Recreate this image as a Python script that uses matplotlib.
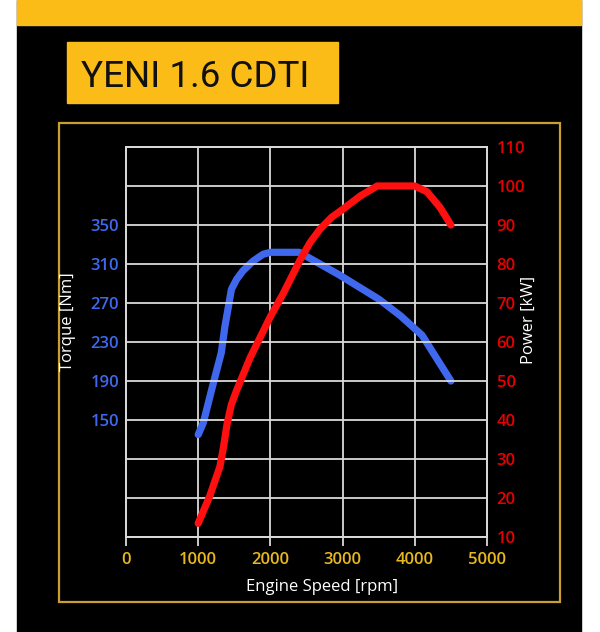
import matplotlib
matplotlib.use("Agg")
from matplotlib import pyplot as plt
from matplotlib.patches import Rectangle

# data
rpm_torque = [1000, 1070, 1200, 1320, 1370, 1420, 1460, 1530, 1620, 1760, 1900, 2000,
              2400, 2950, 3500, 3800, 4100, 4500]
torque = [135, 147, 185, 219, 246, 267, 284, 294, 303, 313, 320, 322,
          322, 299, 274, 257, 237, 190]

rpm_power = [1000, 1160, 1300, 1350, 1400, 1460, 1530, 1720, 2000, 2180, 2410, 2550,
             2690, 2850, 3000, 3250, 3480, 4000, 4170, 4350, 4500]
power = [13.5, 20.5, 28, 33, 39, 44, 47.5, 56, 66.5, 72.5, 81, 85.5,
         89, 92, 94, 97.5, 100, 100, 98.5, 94.5, 90]

x_ticks = [0, 1000, 2000, 3000, 4000, 5000]
torque_ticks = [150, 190, 230, 270, 310, 350]
power_ticks = [10, 20, 30, 40, 50, 60, 70, 80, 90, 100, 110]

title = "YENI 1.6 CDTI"

W, H = 600, 632
YELLOW = '#fcbc17'
GOLD = '#c9a030'
GRID = '#dadada'
BLUE = '#3f68ee'
RED = '#ff1010'

plt.rcParams['font.family'] = ['Open Sans', 'DejaVu Sans']

fig = plt.figure(figsize=(6, 6.32), dpi=100, facecolor='white')


def box(x0, y0, x1, y1):
    # pixel box (top-left origin) -> figure fractions
    return (x0 / W, 1 - y1 / H), (x1 - x0) / W, (y1 - y0) / H


# background panel, yellow band, title box and frame
xy, w, h = box(17, 0, 581, 632)
fig.add_artist(Rectangle(xy, w, h, transform=fig.transFigure, color='black', zorder=0))
xy, w, h = box(17, 0, 581, 25)
fig.add_artist(Rectangle(xy, w, h, transform=fig.transFigure, color=YELLOW, zorder=1))
xy, w, h = box(67, 42, 338, 103)
fig.add_artist(Rectangle(xy, w, h, transform=fig.transFigure, color=YELLOW, zorder=1))
xy, w, h = box(59, 123, 560, 602)
fig.add_artist(Rectangle(xy, w, h, transform=fig.transFigure, fill=False,
                         edgecolor=GOLD, linewidth=1.6, zorder=1))

fig.text(81 / W, 1 - 87 / H, title, fontsize=26.5, color='#111111',
         family=['Roboto', 'DejaVu Sans'], ha='left', va='baseline')

xy, w, h = box(126, 147, 487, 537)
ax = fig.add_axes([xy[0], xy[1], w, h])
ax.set_facecolor('none')
ax2 = ax.twinx()

ax.set_xlim(0, 5000)
ax.set_ylim(30, 430)
ax2.set_ylim(10, 110)

# grid
for p in power_ticks:
    ax2.axhline(p, color=GRID, lw=1.3, zorder=1)
for x in x_ticks[1:-1]:
    ax.axvline(x, color=GRID, lw=1.3, zorder=1)

for a in (ax, ax2):
    for s in a.spines.values():
        s.set_color(GRID)
        s.set_linewidth(1.3)

ax.plot(rpm_torque, torque, color=BLUE, lw=5.2, solid_capstyle='round',
        solid_joinstyle='round', zorder=3)
ax2.plot(rpm_power, power, color=RED, lw=5.2, solid_capstyle='round',
         solid_joinstyle='round', zorder=3)

ax.set_xticks(x_ticks)
ax.tick_params(axis='x', colors=GRID, length=6.5, width=1.3, pad=4)
for t in ax.get_xticklabels():
    t.set_color('#e8b81e')
    t.set_fontsize(12)
    t.set_fontweight('semibold')

ax.set_yticks(torque_ticks)
ax.tick_params(axis='y', length=0, pad=5)
for t in ax.get_yticklabels():
    t.set_color(BLUE)
    t.set_fontsize(12)
    t.set_fontweight('semibold')

ax2.set_yticks(power_ticks)
ax2.tick_params(axis='y', length=0, pad=7)
for t in ax2.get_yticklabels():
    t.set_color('#e80000')
    t.set_fontsize(12)
    t.set_fontweight('semibold')

fig.text(68 / W, 1 - 322 / H, 'Torque [Nm]', rotation=90, color='white',
         fontsize=12, ha='center', va='center')
fig.text(529 / W, 1 - 320 / H, 'Power [kW]', rotation=90, color='white',
         fontsize=12, ha='center', va='center')
fig.text(322 / W, 1 - 587 / H, 'Engine Speed [rpm]', color='white',
         fontsize=12, ha='center', va='center')

plt.savefig('out.png', dpi=100, facecolor=fig.get_facecolor())
